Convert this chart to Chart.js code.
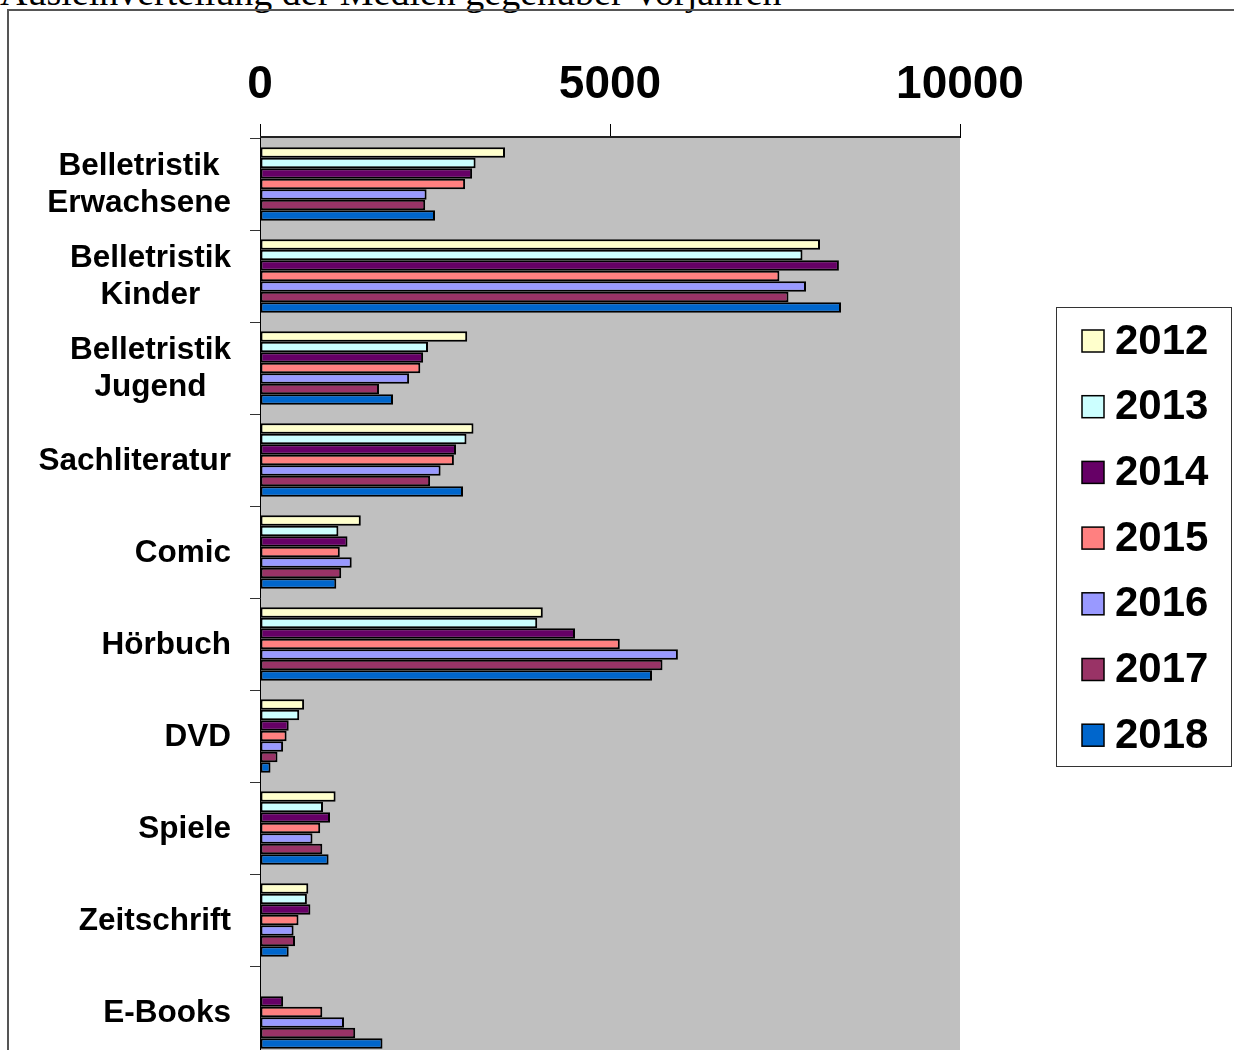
<!DOCTYPE html>
<html>
<head>
<meta charset="utf-8">
<script src="https://cdn.jsdelivr.net/npm/chart.js@4.4.1/dist/chart.umd.min.js"></script>
<style>
	html, body { margin: 0; padding: 0; background: #fff; overflow: hidden; }
	#cont { position: relative; width: 1234px; height: 1050px; overflow: hidden; }
	#titel { position: absolute; left: 0; top: -27px; font: 38px/38px "Liberation Serif", "Times New Roman", serif; color: #000; white-space: nowrap; }
	#rahmen { position: absolute; left: 7px; top: 9px; width: 1300px; height: 1100px; border: 2px solid #555; }
	#grafico { position: absolute; left: 0; top: 0; }
</style>
</head>
<body>
<div id="cont">
	<div id="titel">Ausleihverteilung der Medien gegenüber Vorjahren</div>
	<div id="rahmen"></div>
	<canvas id="grafico" width="1234" height="1070"></canvas>
</div>
<script>
let kategorien = [
	['Belletristik', 'Erwachsene'],
	['Belletristik', 'Kinder'],
	['Belletristik', 'Jugend'],
	['Sachliteratur'],
	['Comic'],
	['Hörbuch'],
	['DVD'],
	['Spiele'],
	['Zeitschrift'],
	['E-Books']
];

let jahre = ['2012', '2013', '2014', '2015', '2016', '2017', '2018'];
let farben = ['#FFFFCC', '#CCFFFF', '#660066', '#FF8080', '#9999FF', '#993366', '#0066CC'];

let werte2012 = [3500, 8000, 2960, 3050, 1440, 4040, 630, 1080, 690, 0];
let werte2013 = [3080, 7750, 2400, 2950, 1120, 3960, 560, 900, 670, 0];
let werte2014 = [3030, 8270, 2330, 2800, 1250, 4500, 410, 1000, 720, 330];
let werte2015 = [2930, 7420, 2290, 2770, 1140, 5140, 380, 860, 550, 890];
let werte2016 = [2380, 7800, 2130, 2580, 1310, 5970, 330, 750, 480, 1200];
let werte2017 = [2360, 7550, 1700, 2430, 1160, 5750, 250, 890, 500, 1360];
let werte2018 = [2500, 8300, 1900, 2900, 1090, 5600, 150, 980, 410, 1750];

let xTicks = [0, 5000, 10000];

let alleWerte = [werte2012, werte2013, werte2014, werte2015, werte2016, werte2017, werte2018];

let datasets = jahre.map(function(j, i){
	return {
		label: j,
		data: alleWerte[i],
		backgroundColor: farben[i],
		borderColor: '#000',
		borderWidth: 2,
		borderSkipped: false,
		categoryPercentage: 0.8,
		barPercentage: 1.0
	};
});

let hintergrund = {
	id: 'hintergrund',
	beforeDraw(chart){
		let c = chart.ctx, a = chart.chartArea;
		c.save();
		c.fillStyle = '#C0C0C0';
		c.fillRect(a.left, a.top, a.right - a.left, a.bottom - a.top);
		c.restore();
	}
};

let beschriftung = {
	id: 'beschriftung',
	afterDraw(chart){
		let c = chart.ctx;
		let y = chart.scales.y;
		let a = chart.chartArea;
		c.save();

		// obere achsenlinie
		c.strokeStyle = '#222';
		c.lineWidth = 2;
		c.beginPath();
		c.moveTo(a.left, a.top - 1);
		c.lineTo(a.right, a.top - 1);
		c.stroke();

		c.fillStyle = '#000';
		c.font = 'bold 31.5px "Liberation Sans", Arial, sans-serif';
		c.textAlign = 'center';
		c.textBaseline = 'middle';
		kategorien.forEach(function(lines, i){
			let mitte = y.getPixelForValue(i);
			let breite = 0;
			lines.forEach(function(l){ breite = Math.max(breite, c.measureText(l).width); });
			let cx = 231 - breite / 2;
			let start = mitte - (lines.length - 1) * 37 / 2;
			lines.forEach(function(l, k){
				c.fillText(l, cx, start + k * 37 + 1);
			});
		});

		// legende
		let lx = 1056.5, ly = 307.5, lw = 175, lh = 459;
		c.strokeStyle = '#333';
		c.lineWidth = 1;
		c.strokeRect(lx, ly, lw, lh);
		c.font = 'bold 42px "Liberation Sans", Arial, sans-serif';
		c.textAlign = 'left';
		chart.data.datasets.forEach(function(ds, i){
			let cy = 341 + i * 65.7;
			c.fillStyle = ds.backgroundColor;
			c.fillRect(1082, cy - 11, 22, 22);
			c.strokeStyle = '#000';
			c.lineWidth = 1.5;
			c.strokeRect(1082, cy - 11, 22, 22);
			c.fillStyle = '#000';
			c.fillText(ds.label, 1115, cy + 1);
		});
		c.restore();
	}
};

let ctx = document.getElementById('grafico').getContext('2d');

new Chart(ctx, {
	type: 'bar',
	data: {
		labels: kategorien.map(function(k){ return k.join(' '); }),
		datasets: datasets
	},
	options: {
		indexAxis: 'y',
		responsive: false,
		animation: false,
		events: [],
		layout: {
			padding: { left: 0, right: 274, top: 0, bottom: 12 }
		},
		plugins: {
			legend: { display: false },
			tooltip: { enabled: false }
		},
		scales: {
			x: {
				position: 'top',
				min: 0,
				max: 10000,
				afterBuildTicks(scale){
					scale.ticks = xTicks.map(function(v){ return { value: v }; });
				},
				afterFit(scale){
					scale.height = 138;
				},
				grid: {
					drawOnChartArea: false,
					drawTicks: true,
					tickLength: 14,
					color: '#000',
					lineWidth: 1
				},
				border: { display: false },
				ticks: {
					color: '#000',
					padding: 11,
					maxRotation: 0,
					callback: function(v){ return String(v); },
					font: { family: '"Liberation Sans", Arial, sans-serif', size: 46, weight: 'bold' }
				}
			},
			y: {
				afterFit(scale){
					scale.width = 260;
				},
				grid: {
					drawOnChartArea: false,
					drawTicks: true,
					tickLength: 10,
					color: '#333',
					lineWidth: 1
				},
				border: { color: '#000', width: 1 },
				ticks: { display: false }
			}
		}
	},
	plugins: [hintergrund, beschriftung]
});
</script>
</body>
</html>
